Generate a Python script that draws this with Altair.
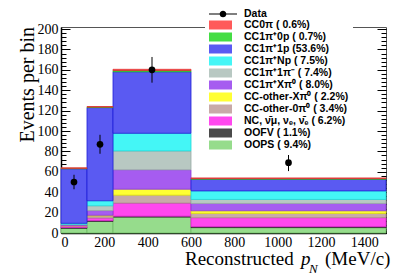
import altair as alt
import pandas as pd
import numpy as np

# ---- data ----
bin_lo = [0, 120, 240, 600]
bin_hi = [120, 240, 600, 1500]

categories = [
    "CC0π ( 0.6%)",
    "CC1π⁺0p ( 0.7%)",
    "CC1π⁺1p (53.6%)",
    "CC1π⁺Np ( 7.5%)",
    "CC1π⁺1π⁻ ( 7.4%)",
    "CC1π⁺Xπ⁰ ( 8.0%)",
    "CC-other-Xπ⁰ ( 2.2%)",
    "CC-other-0π⁰ ( 3.4%)",
    "NC, ν̄μ, νₑ, ν̄ₑ ( 6.2%)",
    "OOFV ( 1.1%)",
    "OOPS ( 9.4%)",
]
colors = ["#ff5a5a", "#44dd44", "#5a5af2", "#44f6f6", "#b8c8c2", "#a65cf0",
          "#ffff33", "#c8aaa8", "#ff48ee", "#4a4a4a", "#96dc8c"]
strokes = ["#e03030", "#22bb22", "#2020d8", "#22d8d8", "#98aaa4", "#8a3ad8",
           "#dddd10", "#aa8a88", "#dd22cc", "#222222", "#70bb66"]

v_cc0pi    = [0.5, 0.5, 1.2, 0.7]
v_cc1pi0p  = [0.4, 0.5, 1.2, 0.6]
v_cc1pi1p  = [53.5, 91.4, 60.3, 11.4]
v_cc1piNp  = [1.0, 4.9, 17.3, 8.4]
v_cc1pi1pm = [0.4, 4.7, 18.5, 3.9]
v_cc1piXp0 = [0.8, 4.6, 19.0, 7.2]
v_ccoXpi0  = [0.2, 0.7, 5.9, 2.6]
v_cco0pi0  = [0.3, 2.0, 7.8, 4.2]
v_nc       = [1.5, 2.6, 12.8, 8.8]
v_oofv     = [0.7, 0.7, 0.9, 0.9]
v_oops     = [4.6, 11.4, 15.6, 5.3]
stack_values = [v_cc0pi, v_cc1pi0p, v_cc1pi1p, v_cc1piNp, v_cc1pi1pm, v_cc1piXp0,
                v_ccoXpi0, v_cco0pi0, v_nc, v_oofv, v_oops]

data_x = [60, 180, 420, 1050]
data_y = [50, 87, 160, 69]
data_err = [7.1, 9.3, 12.6, 8.3]

y_major = list(range(0, 201, 20))
y_minor = list(range(0, 201, 4))
x_major = list(range(0, 1401, 200))
x_minor = list(range(0, 1501, 50))

W, H = 325, 206
serif = "Liberation Serif"
sans = "Liberation Sans"

# ---- tables ----
rows = []
base = np.zeros(len(bin_lo))
for cat, vals in zip(reversed(categories), reversed(stack_values)):
    top = base + np.array(vals, dtype=float)
    for i in range(len(bin_lo)):
        rows.append(dict(cat=cat, x0=bin_lo[i], x1=bin_hi[i], y0=base[i], y1=top[i]))
    base = top
hist = pd.DataFrame(rows)

data_df = pd.DataFrame({
    "x": data_x,
    "y": data_y,
    "lo": [y - e for y, e in zip(data_y, data_err)],
    "hi": [y + e for y, e in zip(data_y, data_err)],
    "label": ["Data"] * len(data_x),
})

xs = alt.Scale(domain=[0, 1500], nice=False, zero=False)
ys = alt.Scale(domain=[0, 202], nice=False, zero=False)

rect = alt.Chart(hist).mark_rect(strokeWidth=0.8).encode(
    x=alt.X("x0:Q", scale=xs, axis=alt.Axis(
        orient="bottom", values=x_major, format="d", ticks=False, domain=True,
        domainColor="black", domainWidth=1.5, grid=False, labelFont=serif,
        labelFontSize=14, labelColor="black", labelPadding=2, title=None)),
    x2="x1:Q",
    y=alt.Y("y0:Q", scale=ys, axis=alt.Axis(
        orient="left", values=y_major, format="d", ticks=False, domain=True,
        domainColor="black", domainWidth=1.5, grid=False, labelFont=serif,
        labelFontSize=14, labelColor="black", labelPadding=3, title=None)),
    y2="y1:Q",
    fill=alt.Fill("cat:N", scale=alt.Scale(domain=categories, range=colors), legend=alt.Legend(
        title=None, orient="none", legendX=144, legendY=-12,
        symbolType="M-1,-0.4H1V0.4H-1Z", symbolSize=529, symbolStrokeWidth=0,
        clipHeight=12, rowPadding=0, labelFont=sans, labelFontSize=10.5,
        labelFontWeight="bold", labelColor="black", labelOffset=12, labelLimit=250,
        padding=4, fillColor="white", symbolOpacity=1, zindex=1)),
    stroke=alt.Stroke("cat:N", scale=alt.Scale(domain=categories, range=strokes), legend=None),
)

# line + dot legend symbol (both sub-paths clockwise so they fill as a union)
data_path = ("M-1,-0.036H1V0.036H-1Z"
             "M-0.24,0A0.24,0.24,0,1,1,0.24,0A0.24,0.24,0,1,1,-0.24,0Z")
legend_layer = alt.Chart(data_df).mark_point(opacity=0, filled=True, color="black").encode(
    x=alt.X("x:Q", scale=xs, axis=None),
    y=alt.Y("y:Q", scale=ys, axis=None),
    shape=alt.Shape("label:N", scale=alt.Scale(domain=["Data"], range=[data_path]), legend=alt.Legend(
        title=None, orient="none", legendX=148, legendY=-19, symbolSize=784,
        symbolFillColor="black", symbolStrokeColor="black", symbolStrokeWidth=0,
        symbolOpacity=1, clipHeight=12, rowPadding=0, labelFont=sans, labelFontSize=10.5,
        labelFontWeight="bold", labelColor="black", labelOffset=7, padding=0,
        fillColor="white", zindex=2)),
)

errbars = alt.Chart(data_df).mark_rule(color="black", strokeWidth=1).encode(
    x=alt.X("x:Q", scale=xs, axis=None),
    y=alt.Y("lo:Q", scale=ys, axis=None),
    y2="hi:Q",
)
points = alt.Chart(data_df).mark_circle(size=45, color="black", opacity=1).encode(
    x=alt.X("x:Q", scale=xs, axis=None),
    y=alt.Y("y:Q", scale=ys, axis=None),
)


def y_ticks(orient, vals, size):
    return alt.Chart(data_df).mark_point(opacity=0).encode(
        x=alt.X("x:Q", scale=xs, axis=None),
        y=alt.Y("y:Q", scale=ys, axis=alt.Axis(
            orient=orient, offset=-W, values=vals, tickSize=size, labels=False,
            domain=False, grid=False, title=None, tickColor="black", tickWidth=1)),
    )


def x_ticks(vals, size):
    return alt.Chart(data_df).mark_point(opacity=0).encode(
        x=alt.X("x:Q", scale=xs, axis=alt.Axis(
            orient="top", offset=-H, values=vals, tickSize=size, labels=False,
            domain=False, grid=False, title=None, tickColor="black", tickWidth=1)),
        y=alt.Y("y:Q", scale=ys, axis=None),
    )


title_df = pd.DataFrame({"t": [0]})


def txt(s, x, y, size, style="normal", angle=0, align="left", baseline="alphabetic"):
    return alt.Chart(title_df).mark_text(
        text=s, font=serif, fontSize=size, fontStyle=style, align=align,
        baseline=baseline, angle=angle, color="black").encode(x=alt.value(x), y=alt.value(y))


chart = alt.layer(
    rect,
    errbars,
    points,
    legend_layer,
    y_ticks("right", y_major, 9),
    y_ticks("right", y_minor, 5),
    y_ticks("left", y_major, 9),
    y_ticks("left", y_minor, 5),
    x_ticks(x_major, 6),
    x_ticks(x_minor, 3),
    txt("Events per bin", -33, 0, 20, angle=270, align="right", baseline="middle"),
    txt("Reconstructed", 124, 238, 19),
    txt("p", 240, 238, 19, "italic"),
    txt("N", 248, 246, 13, "italic"),
    txt("(MeV/c)", 264, 238, 19),
).resolve_axis(x="independent", y="independent").properties(
    width=W, height=H,
    autosize=alt.AutoSizeParams(type="none"),
    padding={"left": 53, "top": 19, "right": 13, "bottom": 42},
).configure_view(stroke="#555555", strokeWidth=1)

chart.save("out.html", embed_options={"renderer": "svg", "actions": False})
